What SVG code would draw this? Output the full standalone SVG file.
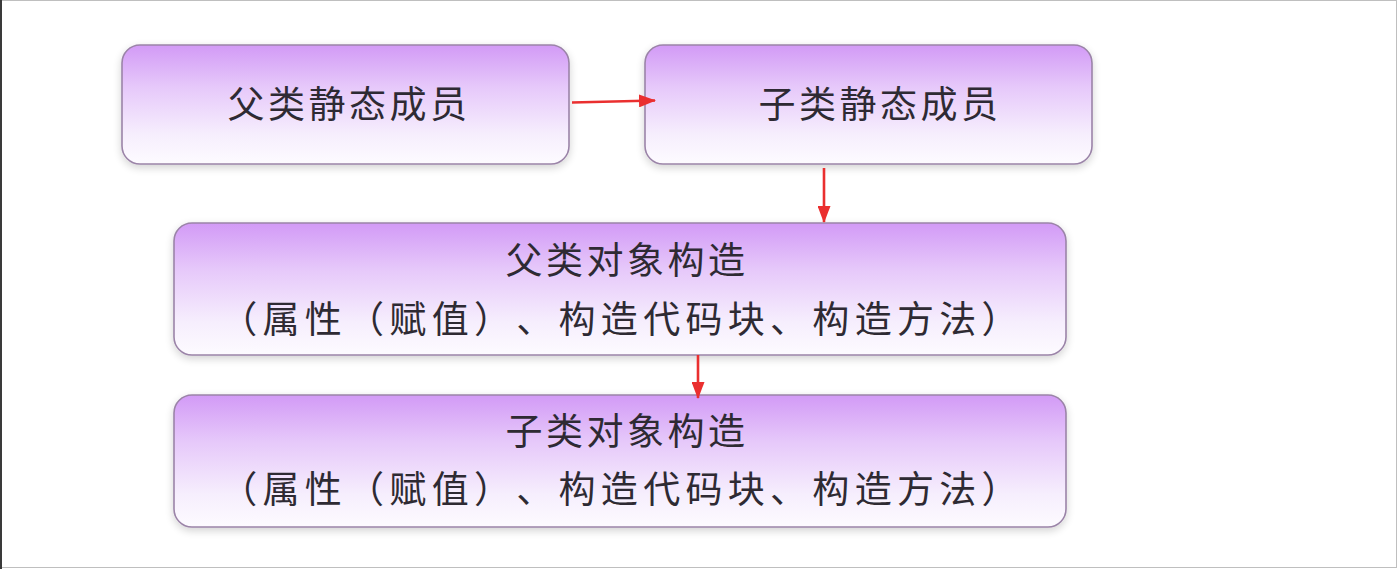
<svg xmlns="http://www.w3.org/2000/svg" width="1398" height="569" viewBox="0 0 1398 569">
  <defs>
    <linearGradient id="boxFill" x1="0" y1="0" x2="0" y2="1">
      <stop offset="0" stop-color="#d29af6"/>
      <stop offset="0.35" stop-color="#e6c8fa"/>
      <stop offset="0.75" stop-color="#f6eefd"/>
      <stop offset="1" stop-color="#fdfbff"/>
    </linearGradient>
    <filter id="shadow" x="-5%" y="-10%" width="110%" height="125%">
      <feGaussianBlur in="SourceAlpha" stdDeviation="4"/>
      <feOffset dx="0" dy="3" result="b"/>
      <feComponentTransfer><feFuncA type="linear" slope="0.18"/></feComponentTransfer>
      <feMerge><feMergeNode/><feMergeNode in="SourceGraphic"/></feMerge>
    </filter>
    <marker id="arrowHead" viewBox="0 0 17 13" refX="16" refY="6.5" markerWidth="17" markerHeight="13" markerUnits="userSpaceOnUse" orient="auto">
      <path d="M0,0 L17,6.5 L0,13 Z" fill="#ea2f2f"/>
    </marker>
  </defs>
  <style>
    .box { fill: url(#boxFill); stroke: #9b84a8; stroke-width: 1.6; filter: url(#shadow); }
    .label { font-family: "Noto Sans CJK SC", "Noto Sans", sans-serif; font-size: 37px; fill: #2e2a33; text-anchor: middle; letter-spacing: 3.5px; text-spacing-trim: space-all; font-feature-settings: "halt" 0, "chws" 0; }
    .wide { letter-spacing: 5.3px; }
    .conn { stroke: #ea2f2f; stroke-width: 2.6; fill: none; marker-end: url(#arrowHead); }
  </style>

  <!-- page -->
  <rect x="0" y="0" width="1398" height="569" fill="#ffffff"/>
  <rect x="0.5" y="0.5" width="1396" height="567" fill="none" stroke="#bfbfbf" stroke-width="1"/>
  <line x1="1" y1="0" x2="1" y2="569" stroke="#3a3a3a" stroke-width="2"/>

  <g id="parent-static">
    <rect class="box" x="122" y="45" width="447" height="119" rx="18"/>
    <text class="label" x="349" y="118">父类静态成员</text>
  </g>

  <g id="child-static">
    <rect class="box" x="645" y="45" width="447" height="119" rx="18"/>
    <text class="label" x="880" y="118">子类静态成员</text>
  </g>

  <g id="parent-object">
    <rect class="box" x="174" y="223" width="892" height="132" rx="18"/>
    <text class="label" x="627" y="274">父类对象构造</text>
    <text class="label wide" x="622" y="333">（属性（赋值）、构造代码块、构造方法）</text>
  </g>

  <g id="child-object">
    <rect class="box" x="174" y="395" width="892" height="132" rx="18"/>
    <text class="label" x="627" y="445">子类对象构造</text>
    <text class="label wide" x="622" y="503">（属性（赋值）、构造代码块、构造方法）</text>
  </g>

  <g id="connectors">
    <line class="conn" x1="572" y1="102.5" x2="655" y2="100.5"/>
    <line class="conn" x1="824" y1="168" x2="824" y2="222"/>
    <line class="conn" x1="698" y1="355" x2="698" y2="398"/>
  </g>
</svg>
